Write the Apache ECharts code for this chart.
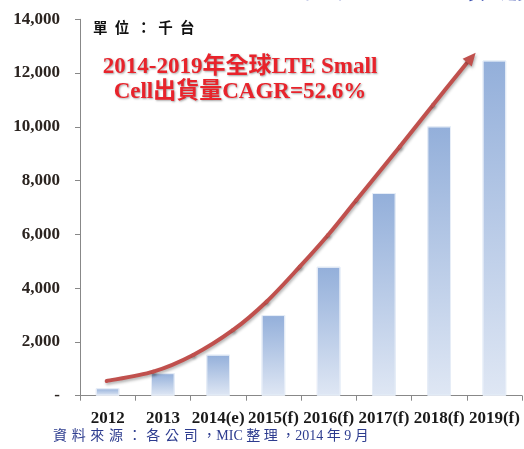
<!DOCTYPE html>
<html><head><meta charset="utf-8">
<script src="https://cdn.jsdelivr.net/npm/echarts@6/dist/echarts.min.js"></script>
<style>html,body{margin:0;padding:0;background:#fff}#c{width:524px;height:449px}</style>
</head><body><div id="c"></div>
<script>
const categories = ['2012','2013','2014(e)','2015(f)','2016(f)','2017(f)','2018(f)','2019(f)'];
const shipments = [280, 840, 1530, 3000, 4800, 7540, 10020, 12470];
const yTicks = [0, 2000, 4000, 6000, 8000, 10000, 12000, 14000];
// trend arrow path, in data space: [category index (fractional), value]
const arrowPath = [[-0.017, 547], [0.826, 893], [1.549, 1514], [2.272, 2444], [2.876, 3496],
                   [3.478, 4798], [3.990, 5977], [4.504, 7279], [5.287, 9261], [5.889, 10813], [6.516, 12412]];
const arrowTip = [6.661, 12758];

const chart = echarts.init(document.getElementById('c'));
const serif = '"Liberation Serif","Times New Roman",serif';
chart.setOption({
  animation: false,
  title: {
    text: '2012-2019年全球LTE Small Cell出貨量趨勢',
    left: 225, top: -19,
    textStyle: {color: '#3a4fb0', fontSize: 16, fontWeight: 'bold', fontFamily: serif}
  },
  grid: {left: 80, right: 2, top: 19.3, bottom: 53.3},
  xAxis: {
    type: 'category', data: categories,
    axisLine: {lineStyle: {color: '#888', width: 1}},
    axisTick: {show: true, length: 5, lineStyle: {color: '#888'}},
    axisLabel: {color: '#1a1a1a', fontFamily: serif, fontWeight: 'bold', fontSize: 17, margin: 14, interval: 0}
  },
  yAxis: {
    type: 'value', min: yTicks[0], max: yTicks[yTicks.length-1], interval: 2000,
    splitLine: {show: false},
    axisLine: {show: true, lineStyle: {color: '#888', width: 1}},
    axisTick: {show: true, length: 5, lineStyle: {color: '#888'}},
    axisLabel: {
      color: '#2b2420', fontFamily: serif, fontWeight: 'bold', fontSize: 17, margin: 20,
      formatter: v => v === 0 ? '-' : v.toLocaleString('en-US')
    }
  },
  series: [{
    type: 'bar', data: shipments, barWidth: '43%',
    itemStyle: {
      color: new echarts.graphic.LinearGradient(0,0,0,1,[{offset:0,color:'#93afda'},{offset:1,color:'#dfe7f4'}]),
      borderColor: '#e6edf7', borderWidth: 1
    }
  }]
});

// category axis rounds indices, so interpolate between band centres for fractional positions
function px(p){
  const a = chart.convertToPixel({gridIndex:0}, [0, p[1]]);
  const b = chart.convertToPixel({gridIndex:0}, [1, p[1]]);
  return [a[0] + p[0]*(b[0]-a[0]), a[1]];
}
const pts = arrowPath.map(px);
const e = px(arrowTip);
const last = pts[pts.length-1];
const dx = e[0]-last[0], dy = e[1]-last[1], L = Math.hypot(dx,dy);
const ux = dx/L, uy = dy/L, nx = -uy, ny = ux;
const head = 13, hw = 6;
const base = [e[0]-ux*head, e[1]-uy*head];
const shadow = {shadowColor:'rgba(0,0,0,0.3)',shadowBlur:3,shadowOffsetX:1,shadowOffsetY:2};
const curveStyle = Object.assign({stroke:'#c0504d',lineWidth:4,fill:null,lineCap:'round'}, shadow);
// Catmull-Rom through the read points, as cubic bezier segments
const segs = [];
for (let i = 0; i < pts.length-1; i++) {
  const p0 = pts[Math.max(i-1,0)], p1 = pts[i], p2 = pts[i+1], p3 = pts[Math.min(i+2, pts.length-1)];
  segs.push({type:'bezierCurve', z: 10, silent: true,
    shape:{x1:p1[0],y1:p1[1],
           cpx1:p1[0]+(p2[0]-p0[0])/6, cpy1:p1[1]+(p2[1]-p0[1])/6,
           cpx2:p2[0]-(p3[0]-p1[0])/6, cpy2:p2[1]-(p3[1]-p1[1])/6,
           x2:p2[0], y2:p2[1]},
    style: curveStyle});
}
const sp = '\u2002', sp4 = '\u2004', sp5 = '\u2005';
chart.setOption({
  graphic: segs.concat([
    {type:'polygon', z: 10,
     shape:{points:[[e[0],e[1]],[base[0]+nx*hw,base[1]+ny*hw],[base[0]-nx*hw,base[1]-ny*hw]]},
     style:Object.assign({fill:'#c0504d'}, shadow)},
    {type:'text', left: 93, top: 20, z: 11,
     style:{text:['單','位','：','千','台'].join(sp), fill:'#111', font:'bold 14.5px "Noto Sans CJK TC"'}},
    {type:'text', z: 11, x: 240, y: 80,
     style:{text:'2014-2019年全球LTE Small\nCell出貨量CAGR=52.6%', fill:'#e8232b', align:'center', verticalAlign:'middle',
            font:'bold 23px "Liberation Serif","Noto Sans CJK TC",serif', lineHeight: 25,
            textShadowColor:'rgba(0,0,0,0.35)', textShadowBlur:2, textShadowOffsetX:1, textShadowOffsetY:1}},
    {type:'text', z: 11, left: 53, top: 429,
     style:{text:['資','料','來','源','：','各','公','司','，'].join(sp4) + 'MIC' + sp5 + ['整','理','，2014','年','9','月'].join(sp5),
            fill:'#2d3c8f', font:'14px "Liberation Serif","Noto Sans CJK TC",serif'}}
  ])
});
</script></body></html>
